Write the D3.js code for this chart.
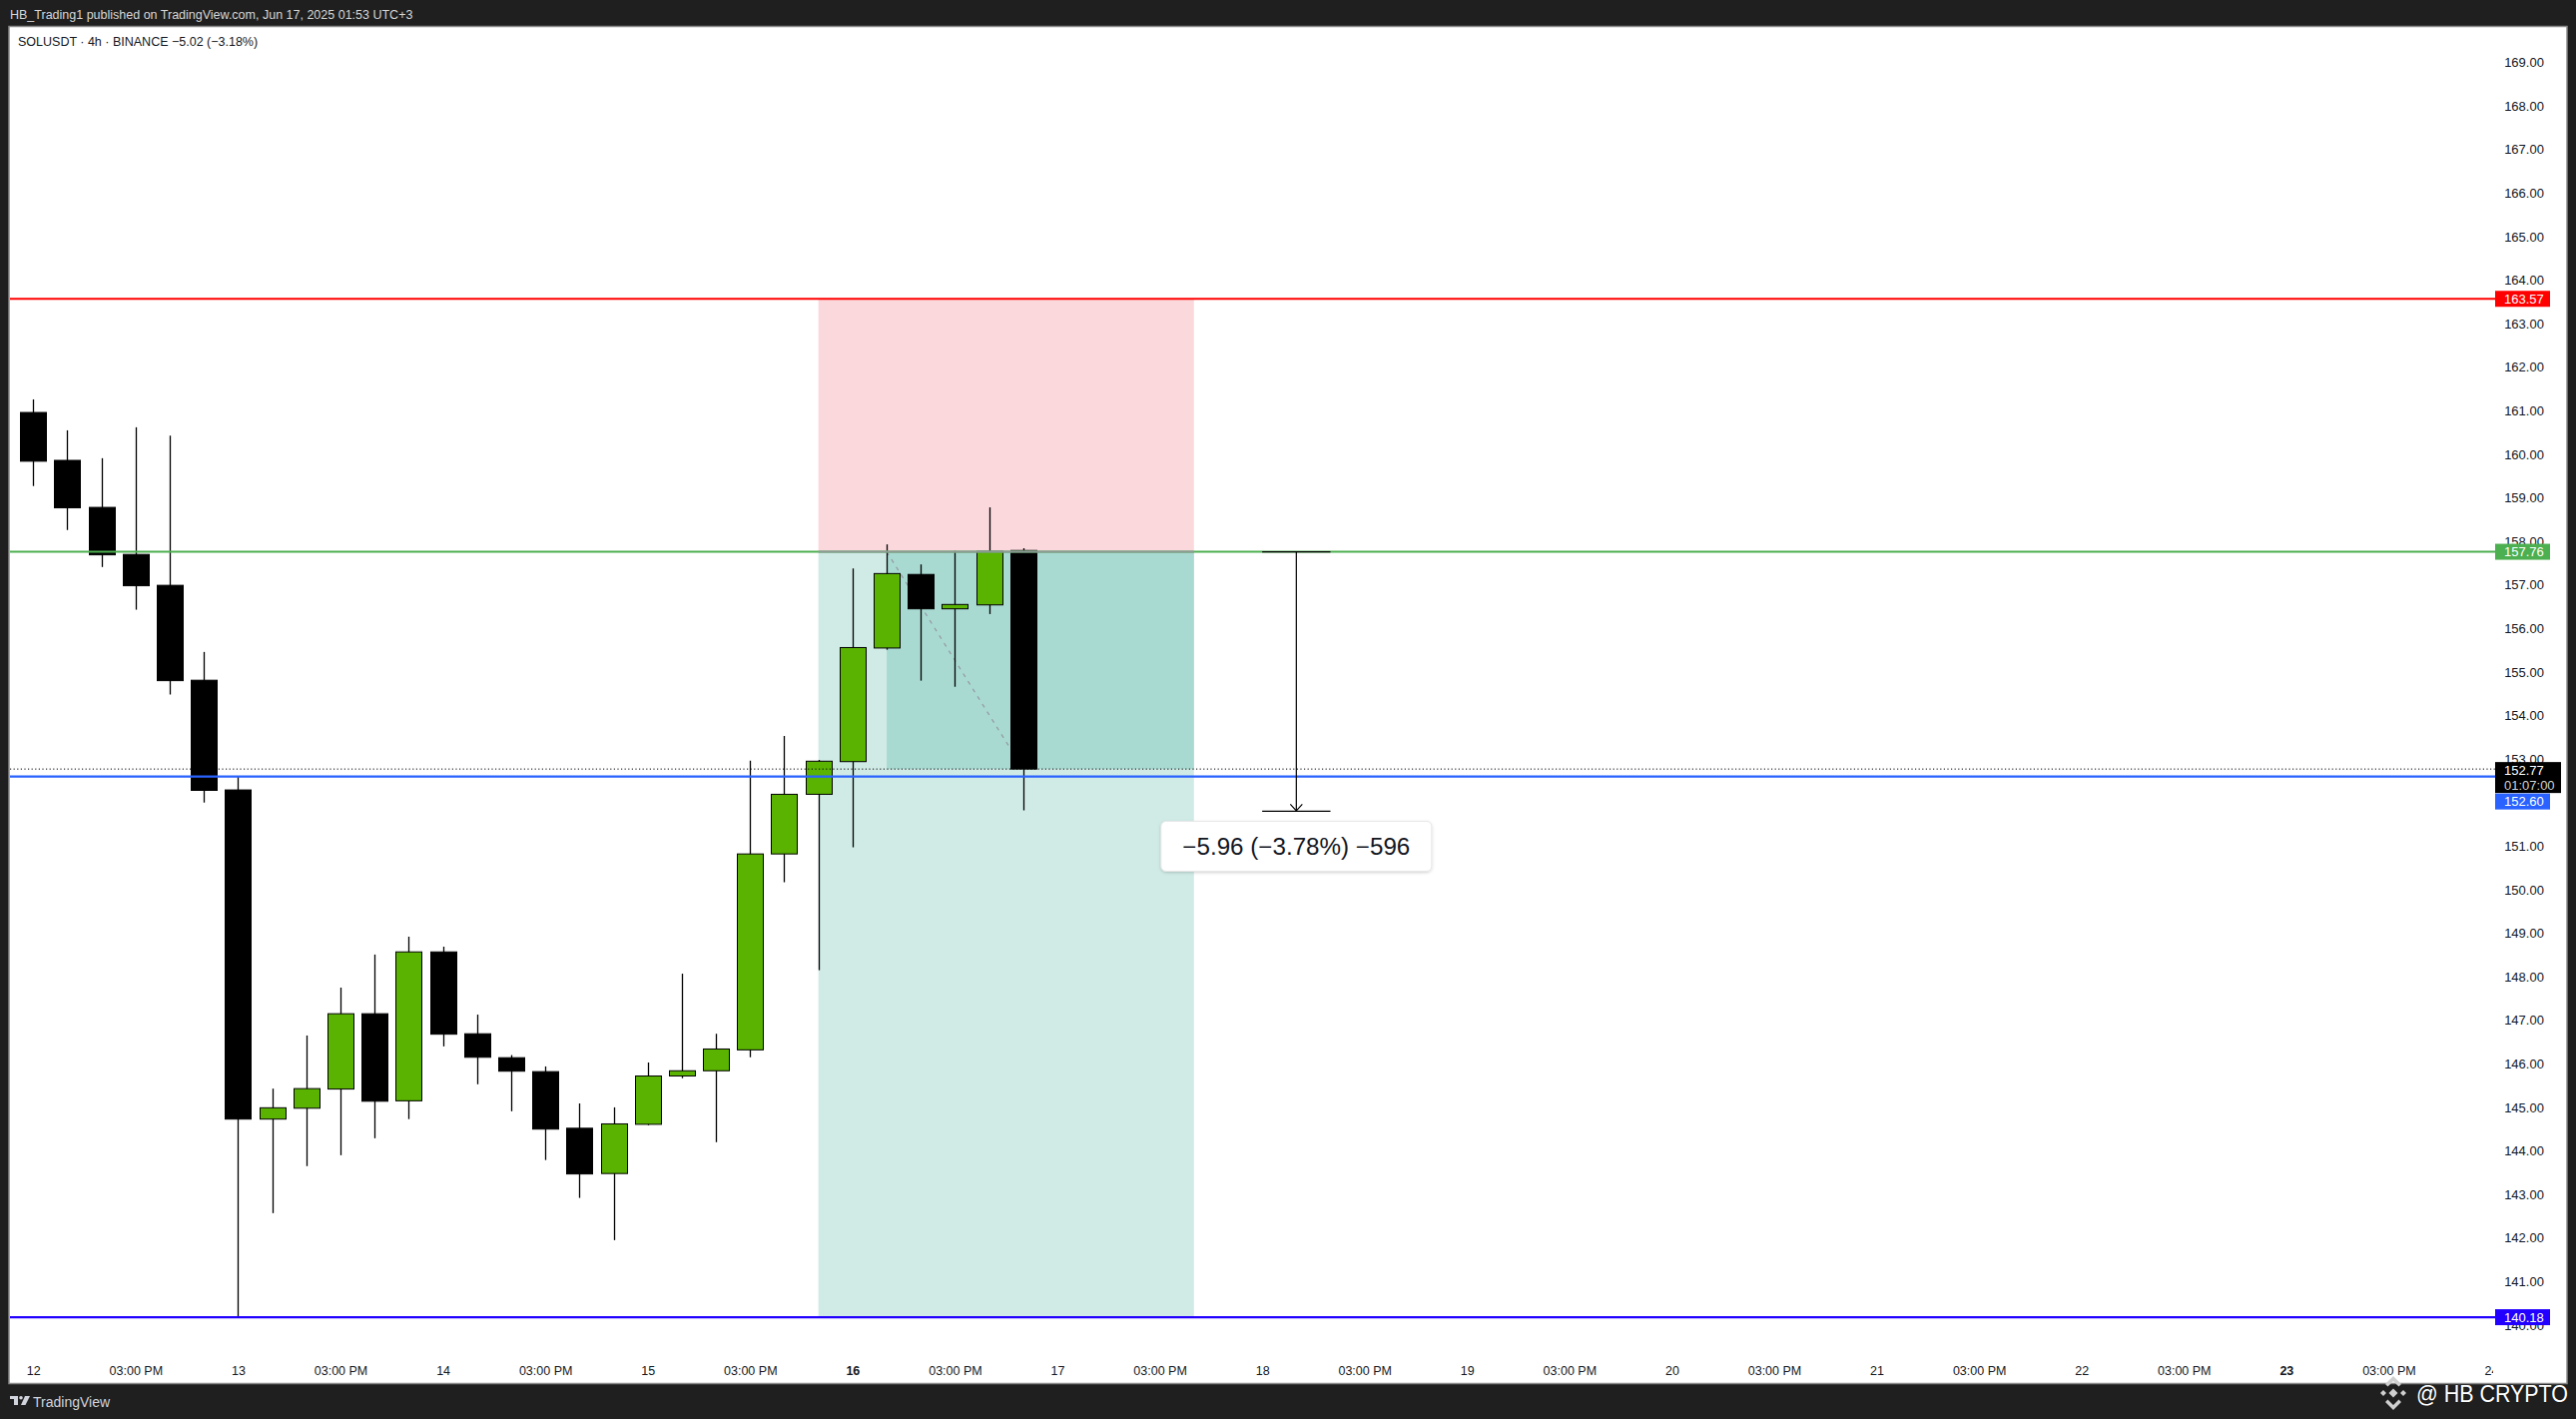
<!DOCTYPE html>
<html><head><meta charset="utf-8">
<script src="https://cdn.jsdelivr.net/npm/d3@7"></script>
<style>html,body{margin:0;padding:0;background:#1f1f1f;overflow:hidden}svg{display:block}</style>
</head><body>
<svg id="c" width="2580" height="1421"></svg>
<script>
// ---- data (4h candles, SOLUSDT, index 0 = Jun 12 00:00) ----
const candleIndex = d3.range(0, 30);
const candleOpen  = [160.96,159.86,158.78,157.70,156.99,154.81,152.29,144.73,144.98,145.42,147.15,145.15,148.57,146.69,146.14,145.82,144.52,143.48,144.61,145.72,145.84,146.32,150.82,152.19,152.94,155.55,157.24,156.45,156.54,157.79];
const candleHigh  = [161.26,160.55,159.91,160.62,160.43,155.46,152.59,145.43,146.65,147.75,148.51,148.92,148.69,147.13,146.20,145.94,145.09,145.00,146.03,148.07,146.69,152.96,153.53,152.98,157.38,157.93,157.47,157.78,158.78,157.84];
const candleLow   = [159.27,158.26,157.41,156.43,154.48,152.00,140.18,142.57,143.65,143.90,144.29,144.73,146.40,145.53,144.91,143.79,142.92,141.95,144.59,145.67,144.20,146.15,150.17,148.15,150.97,155.51,154.80,154.66,156.33,151.82];
const candleClose = [159.84,158.77,157.69,156.98,154.80,152.28,144.73,144.99,145.43,147.15,145.14,148.57,146.68,146.15,145.83,144.50,143.47,144.62,145.72,145.84,146.34,150.82,152.19,152.95,155.56,157.26,156.45,156.55,157.77,152.77];

const dayLabels = ["12","13","14","15","16","17","18","19","20","21","22","23","24"];
const boldDayLabels = ["16","23"];
const halfDayLabel = "03:00 PM";
const priceTicks = [140,141,142,143,144,145,146,147,148,149,150,151,152,153,154,155,156,157,158,159,160,161,162,163,164,165,166,167,168,169];

const stopPrice = 163.57;
const entryPrice = 157.76;
const lastPrice = 152.77;
const lastCountdown = "01:07:00";
const supportPrice = 152.60;
const lowPrice = 140.18;

const positionStartIdx = 23, positionEndIdx = 34, positionFillIdx = 25, positionFillEndCandle = 29;
const measureIdx = [36, 37, 38];
const measureTo = 151.80;
const measureText = "\u22125.96 (\u22123.78%) \u2212596";

const headerText = "HB_Trading1 published on TradingView.com, Jun 17, 2025 01:53 UTC+3";
const legendText = "SOLUSDT \u00b7 4h \u00b7 BINANCE  \u22125.02 (\u22123.18%)";

// ---- layout ----
const FONT = "'Liberation Sans', Arial, sans-serif";
const svg = d3.select("#c");
const W = 2580, H = 1421;
const panel = {x0: 10, x1: 2570, y0: 27, y1: 1385};
const plotRight = 2497;
const labelX = 2499;

const x = d3.scaleLinear().domain([0, 72]).range([33.3, 33.3 + 72 * 34.19]);
const y = d3.scaleLinear().domain([140, 169]).range([62.5 + 29 * 43.6, 62.5]);

svg.append("rect").attr("width", W).attr("height", H).attr("fill", "#1f1f1f");
svg.append("rect").attr("x", panel.x0 - 1).attr("y", panel.y0 - 0.5)
  .attr("width", panel.x1 - panel.x0 + 2).attr("height", panel.y1 - panel.y0 + 1)
  .attr("fill", "#ffffff").attr("stroke", "#8a8a8a").attr("stroke-width", 1.5);

const defs = svg.append("defs");
defs.append("clipPath").attr("id", "plotClip").append("rect")
  .attr("x", panel.x0).attr("y", panel.y0).attr("width", plotRight - panel.x0).attr("height", panel.y1 - panel.y0);
const sh = defs.append("filter").attr("id", "shadow").attr("x", "-10%").attr("y", "-20%").attr("width", "120%").attr("height", "150%");
sh.append("feDropShadow").attr("dx", 0).attr("dy", 1).attr("stdDeviation", 1.5).attr("flood-color", "#000").attr("flood-opacity", 0.18);

// header
svg.append("text").attr("x", 10).attr("y", 19).attr("fill", "#d6d6d6")
  .style("font", `12.5px ${FONT}`).text(headerText);
svg.append("text").attr("x", 18).attr("y", 45.5).attr("fill", "#131722")
  .style("font", `12.5px ${FONT}`).text(legendText);

const plot = svg.append("g").attr("clip-path", "url(#plotClip)");

// position tool zones
plot.append("rect").attr("x", x(positionStartIdx)).attr("y", y(stopPrice))
  .attr("width", x(positionEndIdx) - x(positionStartIdx)).attr("height", y(entryPrice) - y(stopPrice))
  .attr("fill", "#fad8dc");
plot.append("rect").attr("x", x(positionStartIdx)).attr("y", y(entryPrice))
  .attr("width", x(positionEndIdx) - x(positionStartIdx)).attr("height", y(lowPrice) - y(entryPrice))
  .attr("fill", "#d0ebe6");
plot.append("rect").attr("x", x(positionFillIdx)).attr("y", y(entryPrice))
  .attr("width", x(positionEndIdx) - x(positionFillIdx)).attr("height", y(lastPrice) - y(entryPrice))
  .attr("fill", "#a8dad2");
plot.append("line").attr("x1", x(positionFillIdx)).attr("y1", y(entryPrice))
  .attr("x2", x(positionFillEndCandle)).attr("y2", y(lastPrice))
  .attr("stroke", "#9598a1").attr("stroke-width", 1.2).attr("stroke-dasharray", "4,5");

// horizontal lines
const hline = (p, color, w) => svg.append("line").attr("x1", panel.x0).attr("x2", labelX)
  .attr("y1", y(p)).attr("y2", y(p)).attr("stroke", color).attr("stroke-width", w);
hline(stopPrice, "#ff0000", 2);
hline(entryPrice, "#4caf50", 2);
hline(supportPrice, "#2962ff", 2.2);
hline(lowPrice, "#2200ff", 2.2);
svg.append("line").attr("x1", x(positionStartIdx)).attr("x2", x(positionEndIdx))
  .attr("y1", y(entryPrice)).attr("y2", y(entryPrice)).attr("stroke", "#8d9a96").attr("stroke-width", 2);

// candles
const candles = plot.append("g").selectAll("g").data(candleIndex).join("g");
candles.append("line")
  .attr("x1", i => Math.round(x(i)) + 0.5).attr("x2", i => Math.round(x(i)) + 0.5)
  .attr("y1", i => y(candleHigh[i])).attr("y2", i => y(candleLow[i]))
  .attr("stroke", "#000").attr("stroke-width", 1.3);
candles.append("rect")
  .attr("x", i => Math.round(x(i)) - 12.5)
  .attr("width", 26)
  .attr("y", i => y(Math.max(candleOpen[i], candleClose[i])))
  .attr("height", i => Math.max(1, Math.abs(y(candleOpen[i]) - y(candleClose[i]))))
  .attr("fill", i => candleClose[i] >= candleOpen[i] ? "#59b300" : "#000000")
  .attr("stroke", "#000").attr("stroke-width", 1);

// last price dotted line
svg.append("line").attr("x1", panel.x0).attr("x2", labelX)
  .attr("y1", y(lastPrice)).attr("y2", y(lastPrice))
  .attr("stroke", "#000").attr("stroke-width", 1).attr("stroke-dasharray", "1.2,2.4");

// measure tool
const mx = x(measureIdx[1]);
svg.append("line").attr("x1", mx).attr("x2", mx).attr("y1", y(entryPrice)).attr("y2", y(measureTo))
  .attr("stroke", "#000").attr("stroke-width", 1.2);
[entryPrice, measureTo].forEach(p => svg.append("line")
  .attr("x1", x(measureIdx[0])).attr("x2", x(measureIdx[2])).attr("y1", y(p)).attr("y2", y(p))
  .attr("stroke", "#000").attr("stroke-width", 1.2));
svg.append("path").attr("d", `M${mx - 6},${y(measureTo) - 7}L${mx},${y(measureTo) - 0.5}L${mx + 6},${y(measureTo) - 7}`)
  .attr("fill", "none").attr("stroke", "#000").attr("stroke-width", 1.2);
const boxW = 271, boxH = 50;
svg.append("rect").attr("x", mx - boxW / 2).attr("y", y(measureTo) + 10)
  .attr("width", boxW).attr("height", boxH).attr("rx", 5)
  .attr("fill", "#fff").attr("stroke", "#e6e6e6").attr("filter", "url(#shadow)");
svg.append("text").attr("x", mx).attr("y", y(measureTo) + 10 + boxH / 2).attr("dy", "0.36em")
  .attr("text-anchor", "middle").attr("fill", "#131722")
  .attr("textLength", 228).attr("lengthAdjust", "spacingAndGlyphs")
  .style("font", `23px ${FONT}`).text(measureText);

// price axis
const yAxis = svg.append("g").attr("transform", "translate(2528,0)")
  .call(d3.axisRight(y).tickValues(priceTicks).tickSize(0).tickPadding(0).tickFormat(d3.format(".2f")));
yAxis.select(".domain").remove();
yAxis.selectAll("text").attr("text-anchor", "middle").attr("fill", "#131722")
  .style("font", `13px ${FONT}`);

// price labels
const priceBox = (p, cy, color, txt) => {
  svg.append("rect").attr("x", labelX).attr("y", cy - 8).attr("width", 55).attr("height", 16).attr("fill", color);
  svg.append("text").attr("x", 2508).attr("y", cy).attr("dy", "0.36em").attr("fill", "#fff")
    .style("font", `13px ${FONT}`).text(txt);
};
priceBox(stopPrice, y(stopPrice), "#ff0000", stopPrice.toFixed(2));
priceBox(entryPrice, y(entryPrice), "#4caf50", entryPrice.toFixed(2));
priceBox(lowPrice, y(lowPrice), "#2200ff", lowPrice.toFixed(2));
// last price box (2 lines) and support box pushed below it
const lpTop = y(lastPrice) - 7;
svg.append("rect").attr("x", labelX).attr("y", lpTop).attr("width", 66).attr("height", 31).attr("fill", "#000");
svg.append("text").attr("x", 2508).attr("y", lpTop + 8).attr("dy", "0.36em").attr("fill", "#fff")
  .style("font", `13px ${FONT}`).text(lastPrice.toFixed(2));
svg.append("text").attr("x", 2508).attr("y", lpTop + 23).attr("dy", "0.36em").attr("fill", "#d0d0d0")
  .style("font", `13px ${FONT}`).text(lastCountdown);
priceBox(supportPrice, lpTop + 31 + 8.5, "#2962ff", supportPrice.toFixed(2));

// time axis
const timeTicks = [], timeLabels = [];
dayLabels.forEach((d, k) => {
  timeTicks.push(k * 6); timeLabels.push(d);
  if (k < dayLabels.length - 1) { timeTicks.push(k * 6 + 3); timeLabels.push(halfDayLabel); }
});
defs.append("clipPath").attr("id", "timeClip").append("rect")
  .attr("x", panel.x0).attr("y", 1340).attr("width", plotRight - panel.x0).attr("height", 45);
const xAxis = svg.append("g").attr("clip-path", "url(#timeClip)").append("g")
  .attr("transform", "translate(0,1372)")
  .call(d3.axisBottom(x).tickValues(timeTicks).tickSize(0).tickPadding(0)
    .tickFormat(v => timeLabels[timeTicks.indexOf(v)]));
xAxis.select(".domain").remove();
xAxis.selectAll("text").attr("y", 0).attr("dy", "0.36em").attr("fill", "#131722")
  .style("font", `12.5px ${FONT}`)
  .style("font-weight", function () { return boldDayLabels.includes(this.textContent) ? "bold" : "normal"; });

// footer: TradingView logo
const logo = svg.append("g").attr("transform", "translate(10,1398)").attr("fill", "#d1d4dc");
logo.append("path").attr("d", "M0,0H8V9H4V3H0Z");
logo.append("circle").attr("cx", 11).attr("cy", 1.7).attr("r", 1.8);
logo.append("path").attr("d", "M15,0H20L15.5,9H11Z");
svg.append("text").attr("x", 33).attr("y", 1408.5).attr("fill", "#d1d4dc")
  .style("font", `14px ${FONT}`).text("TradingView");

// watermark
const bn = svg.append("g").attr("transform", "translate(2397,1395)").attr("fill", "#cfcfcf");
const dia = (cx, cy, r) => bn.append("path").attr("d", `M${cx},${cy - r}L${cx + r},${cy}L${cx},${cy + r}L${cx - r},${cy}Z`);
dia(0, 0, 4.5); dia(-10, 0, 3); dia(10, 0, 3);
bn.append("path").attr("d", "M0,-17L8,-9L5.5,-6.5L0,-12L-5.5,-6.5L-8,-9Z");
bn.append("path").attr("d", "M0,17L8,9L5.5,6.5L0,12L-5.5,6.5L-8,9Z");
svg.append("text").attr("x", 2420).attr("y", 1404).attr("fill", "#ffffff")
  .attr("textLength", 152).attr("lengthAdjust", "spacingAndGlyphs")
  .style("font", `24px ${FONT}`).style("paint-order", "stroke")
  .attr("stroke", "rgba(0,0,0,0.35)").attr("stroke-width", 1).text("@ HB CRYPTO");
</script>
</body></html>
